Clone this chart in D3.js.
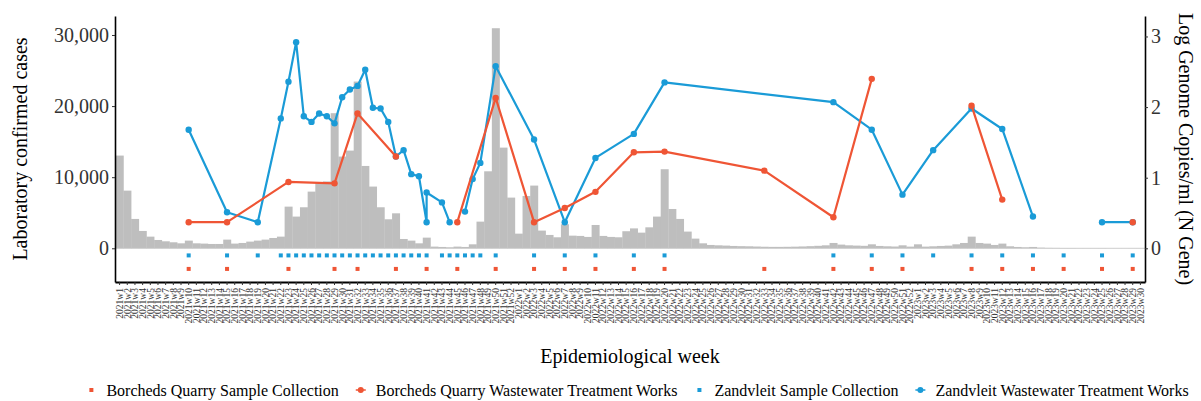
<!DOCTYPE html>
<html>
<head>
<meta charset="utf-8">
<script src="https://cdn.jsdelivr.net/npm/d3@7"></script>
<style>
body { margin: 0; background: #fff; }
svg text { font-family: "Liberation Serif", "Times New Roman", serif; }
</style>
</head>
<body>
<div id="chart"></div>
<script>
"use strict";

// epidemiological weeks shown on the x axis
var years = [2021, 2022, 2023];
var weeksInYear = [52, 52, 30];

// laboratory confirmed cases per week (bars)
var cases = [
    13040, 8110, 4130, 2440, 1640, 1170, 985, 845, 700, 1080,
    700, 660, 610, 610, 1220, 660, 750, 940, 1080, 1220,
    1450, 1640, 5860, 4460, 5770, 7970, 9150, 9400, 19000, 12900,
    13740, 23450, 11580, 8680, 5770, 4080, 4920, 1310, 1080, 700,
    1500, 235, 190, 140, 235, 190, 560, 3750, 10830, 30950,
    14160, 7130, 2060, 7360, 8820, 2490, 1880, 1550, 3380, 1780,
    1740, 1600, 3280, 1740, 1600, 1550, 2400, 2800, 2200, 2950,
    4460, 11120, 5530, 4130, 2350, 1360, 700, 470, 420, 380,
    330, 300, 280, 250, 220, 200, 200, 210, 230, 260,
    300, 350, 420, 750, 520, 420, 380, 350, 560, 330,
    280, 250, 420, 235, 560, 235, 280, 330, 375, 560,
    750, 1640, 750, 660, 470, 660, 280, 190, 140, 190,
    90, 60, 50, 40, 40, 30, 30, 30, 30, 20,
    20, 20, 20, 20
];

// Zandvleit WWTW, log genome copies/ml (N gene); null = sampled, no result
var zandWeeks = ["2021w10","2021w15","2021w19","2021w22","2021w23","2021w24","2021w25","2021w26",
    "2021w27","2021w28","2021w29","2021w30","2021w31","2021w32","2021w33","2021w34","2021w35",
    "2021w36","2021w37","2021w38","2021w39","2021w40","2021w41","2021w41","2021w43","2021w44",
    "2021w45","2021w46","2021w47","2021w48","2021w50","2022w3","2022w7","2022w11","2022w16",
    "2022w20","2022w42","2022w47","2022w51","2023w3","2023w8","2023w12","2023w16","2023w20",
    "2023w25","2023w29"];
var zandValues = [1.68, 0.51, 0.37, 1.84, 2.36, 2.92, 1.87, 1.79,
    1.91, 1.87, 1.77, 2.14, 2.25, 2.30, 2.53, 1.99, 1.98,
    1.79, 1.30, 1.39, 1.05, 1.02, 0.37, 0.79, 0.65, 0.37,
    null, 0.52, 0.98, 1.21, 2.58, 1.54, 0.37, 1.28, 1.62,
    2.35, 2.07, 1.68, 0.76, 1.39, 1.98, 1.69, 0.45, null,
    0.37, 0.37];

// Borcheds Quarry WWTW
var borchWeeks = ["2021w10","2021w15","2021w23","2021w29","2021w32","2021w37","2021w41","2021w45",
    "2021w50","2022w3","2022w7","2022w11","2022w16","2022w20","2022w33","2022w42","2022w47",
    "2022w51","2023w8","2023w12","2023w16","2023w20","2023w25","2023w29"];
var borchValues = [0.37, 0.37, 0.94, 0.92, 1.91, 1.30, null, 0.37,
    2.13, 0.37, 0.57, 0.80, 1.36, 1.37, 1.10, 0.44, 2.40,
    null, 2.02, 0.69, null, null, null, 0.37];

var leftTicks = [0, 10000, 20000, 30000];
var rightTicks = [0, 1, 2, 3];

var red = "#EF5535", blue = "#1A9BD7", barGrey = "#BEBEBE";

var weeks = [];
years.forEach(function(y, i) {
    for (var w = 1; w <= weeksInYear[i]; w++) weeks.push(y + "w" + w);
});

var width = 1201, height = 401;
var plot = {left: 115, right: 1145, top: 16, bottom: 282};

var svg = d3.select("#chart").append("svg")
    .attr("width", width)
    .attr("height", height);

svg.append("rect").attr("width", width).attr("height", height).attr("fill", "#fff");

var x = d3.scaleBand()
    .domain(weeks)
    .range([plot.left, plot.right])
    .paddingInner(0)
    .paddingOuter(0.1);

var yL = d3.scaleLinear().domain([-4740, 32670]).range([plot.bottom, plot.top]);
var yR = d3.scaleLinear().domain([-0.477, 3.29]).range([plot.bottom, plot.top]);

// bars
svg.append("g").selectAll("rect")
    .data(cases)
    .enter()
    .append("rect")
    .attr("x", (d, i) => x(weeks[i]))
    .attr("y", d => yL(d))
    .attr("width", x.bandwidth() + 0.3)
    .attr("height", d => yL(0) - yL(d))
    .attr("fill", barGrey);

// zero line
svg.append("line")
    .attr("x1", plot.left).attr("x2", plot.right)
    .attr("y1", yL(0)).attr("y2", yL(0))
    .attr("stroke", "#c4c4c4").attr("stroke-width", 0.8);

var cx = w => x(w) + x.bandwidth() / 2;

// sample collection markers
function squares(wks, level, colour) {
    var uniq = Array.from(new Set(wks));
    svg.append("g").selectAll("rect")
        .data(uniq)
        .enter()
        .append("rect")
        .attr("x", d => cx(d) - 2)
        .attr("y", yL(level) - 2)
        .attr("width", 4)
        .attr("height", 4)
        .attr("fill", colour);
}
squares(zandWeeks, -1000, blue);
squares(borchWeeks, -2900, red);

// wastewater lines
function series(wks, vals, colour) {
    var pts = wks.map((w, i) => ({w: w, v: vals[i]}));
    var line = d3.line()
        .defined(d => d.v != null)
        .x(d => cx(d.w))
        .y(d => yR(d.v));
    svg.append("path")
        .datum(pts)
        .attr("d", line)
        .attr("fill", "none")
        .attr("stroke", colour)
        .attr("stroke-width", 2.2)
        .attr("stroke-linejoin", "round");
    svg.append("g").selectAll("circle")
        .data(pts.filter(d => d.v != null))
        .enter()
        .append("circle")
        .attr("cx", d => cx(d.w))
        .attr("cy", d => yR(d.v))
        .attr("r", 3.2)
        .attr("fill", colour);
}
series(zandWeeks, zandValues, blue);
series(borchWeeks, borchValues, red);

// axes
var axL = svg.append("g")
    .attr("transform", "translate(" + plot.left + ",0)")
    .call(d3.axisLeft(yL).tickValues(leftTicks).tickFormat(d3.format(",")).tickSize(3).tickSizeOuter(0));
var axR = svg.append("g")
    .attr("transform", "translate(" + plot.right + ",0)")
    .call(d3.axisRight(yR).tickValues(rightTicks).tickFormat(d3.format("d")).tickSize(3).tickSizeOuter(0));
[axL, axR].forEach(function(a) {
    a.select(".domain").attr("stroke", "#000").attr("stroke-width", 1.6);
    a.selectAll(".tick line").attr("stroke", "#333");
    a.selectAll(".tick text")
        .attr("font-size", 20)
        .attr("fill", "#333")
        .style("font-family", "'Liberation Serif', serif");
});

var axB = svg.append("g")
    .attr("transform", "translate(0," + plot.bottom + ")")
    .call(d3.axisBottom(x).tickSize(3).tickSizeOuter(0));
axB.select(".domain").attr("stroke", "#000").attr("stroke-width", 2);
axB.selectAll(".tick line").attr("stroke", "#333");
axB.selectAll(".tick text")
    .attr("font-size", 9.5)
    .attr("fill", "#333")
    .attr("y", 0)
    .attr("x", -6)
    .attr("dy", "0.35em")
    .attr("transform", "rotate(-90)")
    .style("text-anchor", "end")
    .style("font-family", "'Liberation Serif', serif");

// titles
svg.append("text")
    .attr("transform", "translate(27," + (plot.top + plot.bottom) / 2 + ") rotate(-90)")
    .attr("text-anchor", "middle")
    .attr("font-size", 20)
    .text("Laboratory confirmed cases");
svg.append("text")
    .attr("transform", "translate(1179," + (plot.top + plot.bottom) / 2 + ") rotate(90)")
    .attr("text-anchor", "middle")
    .attr("font-size", 20)
    .text("Log Genome Copies/ml (N Gene)");
svg.append("text")
    .attr("x", (plot.left + plot.right) / 2)
    .attr("y", 363)
    .attr("text-anchor", "middle")
    .attr("font-size", 20)
    .text("Epidemiological week");

// legend, laid out left to right then centred
var legend = [
    {label: "Borcheds Quarry Sample Collection", colour: red, kind: "square"},
    {label: "Borcheds Quarry Wastewater Treatment Works", colour: red, kind: "line"},
    {label: "Zandvleit Sample Collection", colour: blue, kind: "square"},
    {label: "Zandvleit Wastewater Treatment Works", colour: blue, kind: "line"}
];
var lg = svg.append("g");
var pos = 0;
legend.forEach(function(d) {
    var item = lg.append("g").attr("transform", "translate(" + pos + ",0)");
    if (d.kind === "square") {
        item.append("rect").attr("x", -2).attr("y", -2).attr("width", 4).attr("height", 4).attr("fill", d.colour);
    } else {
        item.append("line").attr("x1", -5).attr("x2", 5).attr("y1", 0).attr("y2", 0)
            .attr("stroke", d.colour).attr("stroke-width", 1.5);
        item.append("circle").attr("cx", 0).attr("cy", 0).attr("r", 3).attr("fill", d.colour);
    }
    var t = item.append("text")
        .attr("x", 15)
        .attr("y", 0)
        .attr("dy", "0.35em")
        .attr("font-size", 16)
        .text(d.label);
    pos += 15 + t.node().getComputedTextLength() + 22;
});
var total = pos - 22;
lg.attr("transform", "translate(" + (640 - total / 2) + ",390)");
</script>
</body>
</html>
